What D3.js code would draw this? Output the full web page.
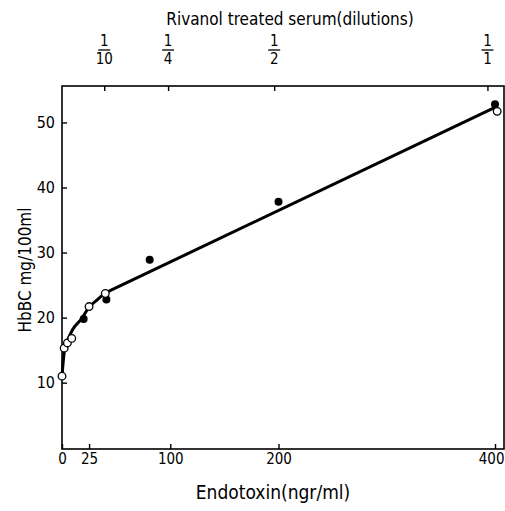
<!DOCTYPE html>
<html><head><meta charset="utf-8">
<script src="https://cdn.jsdelivr.net/npm/d3@7"></script>
<style>
body{margin:0;background:#fff;}
text{font-family:"DejaVu Sans Condensed","Liberation Sans Narrow","Arial Narrow",sans-serif;fill:#000;}
</style></head>
<body><svg id="c" width="505" height="511"></svg>
<script>
// Data
const filledX = [20, 41, 81, 200, 400];
const filledY = [19.8, 22.8, 28.9, 37.8, 52.8];
const openX = [0, 2, 5, 9, 25, 40, 402];
const openY = [11, 15.3, 16.1, 16.8, 21.7, 23.7, 51.7];
const curveX = [0, 2, 5, 10, 18, 25, 33, 40];
const curveY = [11, 14.6, 16.4, 18.2, 19.8, 21.6, 22.8, 23.8];
const lineX = [40, 400];
const lineY = [23.8, 52.3];
const xTicks = [0, 25, 100, 200, 400];
const yTicks = [10, 20, 30, 40, 50];
const topTickPos = [39, 98, 196, 393];
const topNum = ["1", "1", "1", "1"];
const topDen = ["10", "4", "2", "1"];

const svg = d3.select("#c");
const L = 62, R = 504, T = 86, B = 449;
const x = d3.scaleLinear().domain([0, 408.3]).range([L, R]);
const y = d3.scaleLinear().domain([-0.2, 55.6]).range([B, T]);

// frame
svg.append("rect").attr("x", L).attr("y", T).attr("width", R - L).attr("height", B - T)
  .attr("fill", "none").attr("stroke", "#000").attr("stroke-width", 1.6);

// bottom axis (ticks inward)
const gx = svg.append("g").attr("transform", `translate(0,${B})`)
  .call(d3.axisBottom(x).tickValues(xTicks).tickSizeInner(-5).tickSizeOuter(0).tickPadding(4).tickFormat(d3.format("d")));
gx.select(".domain").remove();
gx.selectAll("line").attr("stroke-width", 1.4);
gx.selectAll("text").attr("font-size", 15).attr("dy", "0.75em");
gx.selectAll(".tick").filter(d => d === 400).select("text").attr("text-anchor", "end").attr("x", R - x(400));

// left axis
const gy = svg.append("g").attr("transform", `translate(${L},0)`)
  .call(d3.axisLeft(y).tickValues(yTicks).tickSizeInner(-5).tickSizeOuter(0).tickPadding(7));
gy.select(".domain").remove();
gy.selectAll("line").attr("stroke-width", 1.4);
gy.selectAll("text").attr("font-size", 16);

// top axis
const gt = svg.append("g").attr("transform", `translate(0,${T})`)
  .call(d3.axisTop(x).tickValues(topTickPos).tickSizeInner(-5).tickSizeOuter(0).tickFormat(""));
gt.select(".domain").remove();
gt.selectAll("line").attr("stroke-width", 1.4);
topTickPos.forEach((v, i) => {
  const cx = x(v);
  svg.append("text").attr("x", cx).attr("y", 46).attr("text-anchor", "middle").attr("font-size", 15).text(topNum[i]);
  svg.append("line").attr("x1", cx - 6).attr("x2", cx + 6).attr("y1", 50).attr("y2", 50).attr("stroke", "#000").attr("stroke-width", 1.3);
  svg.append("text").attr("x", cx).attr("y", 64).attr("text-anchor", "middle").attr("font-size", 15).text(topDen[i]);
});

// titles
svg.append("text").attr("x", 290).attr("y", 25).attr("text-anchor", "middle").attr("font-size", 17)
  .text("Rivanol treated serum(dilutions)");
svg.append("text").attr("x", 273).attr("y", 499).attr("text-anchor", "middle").attr("font-size", 19)
  .text("Endotoxin(ngr/ml)");
svg.append("text").attr("transform", "translate(31,270) rotate(-90)").attr("text-anchor", "middle").attr("font-size", 17)
  .text("HbBC mg/100ml");

// curve
const cpts = curveX.map((d, i) => [x(d), y(curveY[i])]);
svg.append("path").attr("d", d3.line().curve(d3.curveMonotoneX)(cpts))
  .attr("fill", "none").attr("stroke", "#000").attr("stroke-width", 3);
const lpts = lineX.map((d, i) => [x(d), y(lineY[i])]);
svg.append("path").attr("d", d3.line()(lpts))
  .attr("fill", "none").attr("stroke", "#000").attr("stroke-width", 3);

// points
svg.append("g").selectAll("circle").data(filledX).join("circle")
  .attr("cx", d => x(d)).attr("cy", (d, i) => y(filledY[i])).attr("r", 4)
  .attr("fill", "#000");
svg.append("g").selectAll("circle").data(openX).join("circle")
  .attr("cx", d => x(d)).attr("cy", (d, i) => y(openY[i])).attr("r", 3.8)
  .attr("fill", "#fff").attr("stroke", "#000").attr("stroke-width", 1.3);
</script></body></html>
